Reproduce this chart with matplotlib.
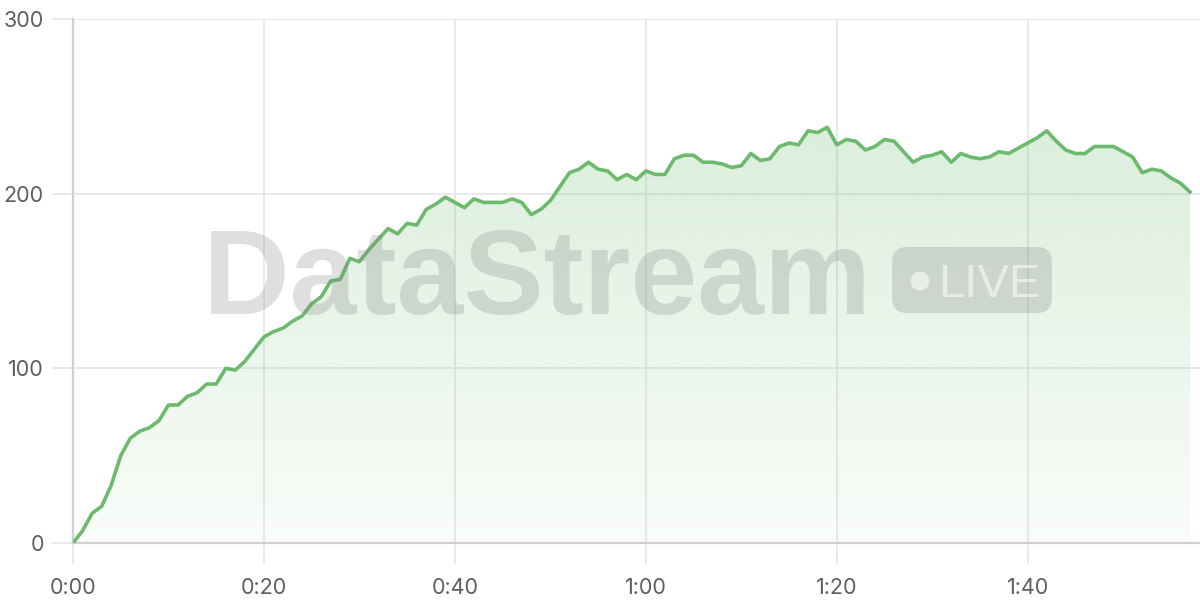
import matplotlib
matplotlib.use("Agg")
import matplotlib.pyplot as plt
import numpy as np
from matplotlib.patches import FancyBboxPatch, Circle, Polygon

# one sample per second, 0:00 .. 1:57
seconds = list(range(118))
values = [0, 7, 17, 21, 33, 50, 60, 64, 66, 70,
          79, 79, 84, 86, 91, 91, 100, 99, 104, 111,
          118, 121, 123, 127, 130, 137, 141, 150, 151, 163,
          161, 168, 174, 180, 177, 183, 182, 191, 194, 198,
          195, 192, 197, 195, 195, 195, 197, 195, 188, 191,
          196, 204, 212, 214, 218, 214, 213, 208, 211, 208,
          213, 211, 211, 220, 222, 222, 218, 218, 217, 215,
          216, 223, 219, 220, 227, 229, 228, 236, 235, 238,
          228, 231, 230, 225, 227, 231, 230, 224, 218, 221,
          222, 224, 218, 223, 221, 220, 221, 224, 223, 226,
          229, 232, 236, 230, 225, 223, 223, 227, 227, 227,
          224, 221, 212, 214, 213, 209, 206, 201]
x_ticks = [0, 20, 40, 60, 80, 100]
x_labels = ["0:00", "0:20", "0:40", "1:00", "1:20", "1:40"]
y_ticks = [0, 100, 200, 300]

green = "#6dba6f"
grid_col = "#e8e8e8"
text_col = "#5f5f5f"

plt.rcParams['font.family'] = ['Inter', 'DejaVu Sans']

fig = plt.figure(figsize=(12, 6), dpi=100)
ax = fig.add_axes([73 / 1200, 57 / 600, 1127 / 1200, 524 / 600])
ax.set_xlim(0, 118.05)
ax.set_ylim(0, 300)

# gradient fill under the line, clipped to the area polygon
verts = [(seconds[0], 0)] + list(zip(seconds, values)) + [(seconds[-1], 0)]
poly = Polygon(verts, closed=True, facecolor="none", edgecolor="none")
ax.add_patch(poly)
grad = np.zeros((256, 1, 4))
grad[:, 0, 0] = 109 / 255
grad[:, 0, 1] = 186 / 255
grad[:, 0, 2] = 111 / 255
grad[:, 0, 3] = np.linspace(0.30, 0.04, 256)
im = ax.imshow(grad, extent=[0, 118.05, 0, 300], aspect="auto", origin="upper", zorder=1)
im.set_clip_path(poly)

ax.plot(seconds, values, color=green, lw=2.6, zorder=4, solid_joinstyle="round")

ax.set_xticks(x_ticks)
ax.set_xticklabels(x_labels)
ax.set_yticks(y_ticks)
ax.grid(True, color=grid_col, lw=1.3, zorder=0)
ax.set_axisbelow(True)
ax.tick_params(axis="both", length=15, width=1.3, color=grid_col, labelcolor=text_col,
               labelsize=15.5)
ax.tick_params(axis="x", pad=10)
ax.tick_params(axis="y", pad=6)
for side in ["top", "right"]:
    ax.spines[side].set_visible(False)
for side in ["left", "bottom"]:
    ax.spines[side].set_color("#d0d0d0")
    ax.spines[side].set_linewidth(1.6)

# watermark (semi-transparent grey, knocked-out LIVE badge)
wm = (0.5, 0.5, 0.5, 0.25)
fig.text(2.03, 2.86, "DataStream", transform=fig.dpi_scale_trans, fontsize=86.5,
         fontweight="bold", color=wm, ha="left", va="baseline", zorder=3,
         family=['Liberation Sans', 'DejaVu Sans'])
badge = FancyBboxPatch((8.92 + 0.15, 2.87 + 0.15), 1.60 - 0.30, 0.66 - 0.30,
                       boxstyle="round,pad=0.15", transform=fig.dpi_scale_trans,
                       facecolor=wm, edgecolor="none", zorder=3)
fig.patches.append(badge)
fig.patches.append(Circle((9.20, 3.19), 0.095, transform=fig.dpi_scale_trans,
                          facecolor=(1, 1, 1, 0.55), edgecolor="none", zorder=3))
fig.text(9.38, 3.03, "LIVE", transform=fig.dpi_scale_trans, fontsize=34,
         color=(1, 1, 1, 0.55), ha="left", va="baseline", zorder=3,
         family=['Liberation Sans', 'DejaVu Sans'])

fig.savefig("out.png", dpi=100)
